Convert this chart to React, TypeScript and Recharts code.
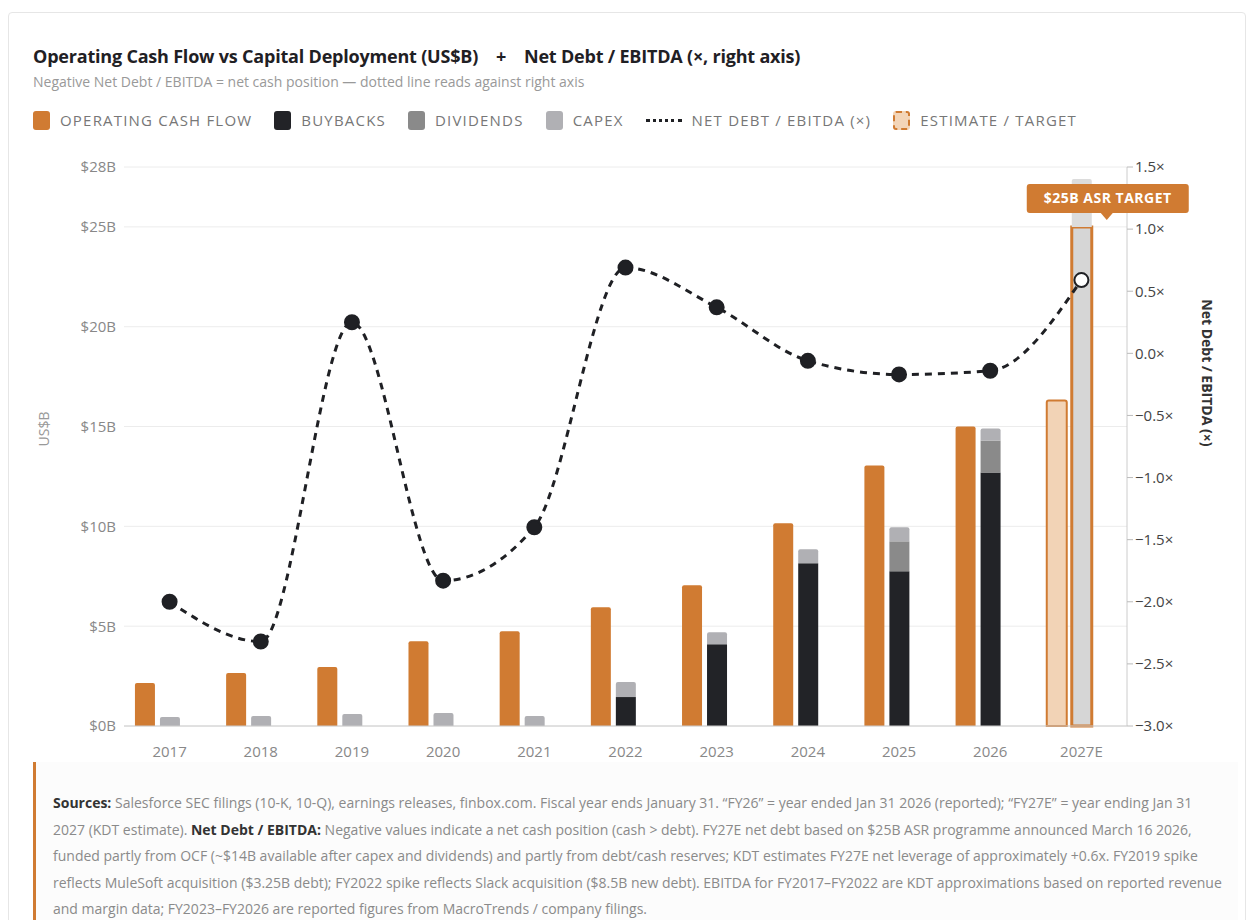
import React from "react"
import {
  ComposedChart,
  Bar,
  Line,
  XAxis,
  YAxis,
  CartesianGrid,
  Cell,
  LabelList,
} from "recharts"

const years = ["2017", "2018", "2019", "2020", "2021", "2022", "2023", "2024", "2025", "2026", "2027E"]
const operatingCashFlow = [2.15, 2.65, 2.95, 4.25, 4.75, 5.95, 7.05, 10.15, 13.05, 15.0, 16.3]
const buybacks = [0, 0, 0, 0, 0, 1.45, 4.1, 8.15, 7.75, 12.7, 25]
const dividends = [0, 0, 0, 0, 0, 0, 0, 0, 1.5, 1.6, 0]
const capex = [0.45, 0.5, 0.6, 0.65, 0.5, 0.75, 0.6, 0.7, 0.7, 0.6, 2.4]
const netDebtEbitda = [-2.0, -2.32, 0.25, -1.83, -1.4, 0.69, 0.37, -0.06, -0.17, -0.14, 0.59]
const leftTicks = [0, 5, 10, 15, 20, 25, 28]
const rightTicks = [-3, -2.5, -2, -1.5, -1, -0.5, 0, 0.5, 1, 1.5]

const ORANGE = "#d07b32"
const FONT = "'Open Sans', 'Noto Sans', sans-serif"
const data = years.map((y, i) => ({
  year: y,
  ocf: operatingCashFlow[i],
  buybacks: buybacks[i],
  dividends: dividends[i],
  capex: capex[i],
  nd: netDebtEbitda[i],
}))
const last = years.length - 1
const targetValue = buybacks[last]

const fmtRight = (v: number) => (v < 0 ? "−" + Math.abs(v).toFixed(1) : v.toFixed(1)) + "×"

const Dot = (p: any) => {
  const est = p.index === last
  return (
    <circle
      key={p.index}
      cx={p.cx}
      cy={p.cy}
      r={7}
      fill={est ? "#fff" : "#1f2024"}
      stroke="#1f2024"
      strokeWidth={2}
    />
  )
}

const TargetLabel = (p: any) => {
  if (p.value !== targetValue) return null
  const cx = Number(p.x) + Number(p.width) / 2
  const y = 34
  return (
    <g>
      <rect x={cx - 80} y={y} width={162} height={29} rx={3} fill={ORANGE} />
      <path d={`M${cx - 6},${y + 29} L${cx + 6},${y + 29} L${cx},${y + 36} Z`} fill={ORANGE} />
      <text x={cx + 1} y={y + 19} textAnchor="middle" fill="#fff" fontSize={14} fontWeight={700} letterSpacing={0.5}>
        $25B ASR TARGET
      </text>
    </g>
  )
}

const legend = [
  { label: "OPERATING CASH FLOW", fill: ORANGE },
  { label: "BUYBACKS", fill: "#222327" },
  { label: "DIVIDENDS", fill: "#8a8a8a" },
  { label: "CAPEX", fill: "#b0b0b4" },
  { label: "NET DEBT / EBITDA (×)", line: true },
  { label: "ESTIMATE / TARGET", fill: "#f3d5b8", dashed: true },
]

export default function App() {
  return (
    <div style={{ position: "absolute", left: 0, top: 0, width: 1248, height: 920, fontFamily: FONT, background: "#fff", overflow: "hidden" }}>
      <div style={{ position: "absolute", left: 8, top: 12, width: 1236, height: 920, border: "1px solid #e6e6e6", borderRadius: 4 }} />
      <div style={{ position: "absolute", left: 33, top: 44, fontSize: 18, fontWeight: 700, color: "#1f2024", whiteSpace: "pre", letterSpacing: -0.2 }}>
        {"Operating Cash Flow vs Capital Deployment (US$B)    +    Net Debt / EBITDA (×, right axis)"}
      </div>
      <div style={{ position: "absolute", left: 33, top: 72, fontSize: 14, color: "#999" }}>
        Negative Net Debt / EBITDA = net cash position  —  dotted line reads against right axis
      </div>
      <div style={{ position: "absolute", left: 33, top: 110, display: "flex", gap: 22, alignItems: "center" }}>
        {legend.map((l) => (
          <div key={l.label} style={{ display: "flex", alignItems: "center", gap: 10, fontSize: 15, letterSpacing: 1.2, color: "#777" }}>
            {l.line ? (
              <div style={{ width: 36, borderTop: "3px dotted #1f2024" }} />
            ) : (
              <div style={{ width: 17, height: 19, borderRadius: 3, background: l.fill, border: l.dashed ? `2px dashed ${ORANGE}` : "none", boxSizing: "border-box" }} />
            )}
            <span>{l.label}</span>
          </div>
        ))}
      </div>

      <div style={{ position: "absolute", left: 0, top: 150 }}>
        <ComposedChart width={1248} height={640} data={data} margin={{ top: 17, right: 61, left: 64, bottom: 34 }} barCategoryGap="12%" barGap={5} style={{ fontFamily: FONT }}>
          <CartesianGrid yAxisId="left" vertical={false} stroke="#ececec" />
          <XAxis dataKey="year" tick={{ fill: "#888", fontSize: 15 }} tickLine={false} axisLine={{ stroke: "#ccc" }} height={30} tickMargin={14} />
          <YAxis
            yAxisId="left"
            domain={[0, 28]}
            ticks={leftTicks}
            width={60}
            tick={{ fill: "#888", fontSize: 15 }}
            tickLine={false}
            axisLine={false}
            tickFormatter={(v) => `$${v}B`}
            label={{ value: "US$B", angle: -90, position: "insideLeft", offset: -20, fill: "#999", fontSize: 14 }}
          />
          <YAxis
            yAxisId="right"
            orientation="right"
            domain={[-3, 1.5]}
            ticks={rightTicks}
            width={60}
            tick={{ fill: "#444", fontSize: 15 }}
            tickLine={{ stroke: "#bbb" }}
            axisLine={{ stroke: "#ccc" }}
            tickFormatter={fmtRight}
            label={{ value: "Net Debt / EBITDA (×)", angle: 90, position: "insideRight", offset: -20, fill: "#333", fontSize: 14, fontWeight: 700 }}
          />
          <Bar yAxisId="left" dataKey="ocf" stackId="a" fill={ORANGE} radius={[2, 2, 0, 0]} isAnimationActive={false}>
            {data.map((d, i) => (
              <Cell key={i} fill={i === last ? "#f2d3b6" : ORANGE} stroke={i === last ? ORANGE : "none"} strokeWidth={2} />
            ))}
          </Bar>
          <Bar yAxisId="left" dataKey="buybacks" stackId="b" fill="#222327" isAnimationActive={false}>
            {data.map((d, i) => (
              <Cell key={i} fill={i === last ? "#d6d6d6" : "#222327"} stroke={i === last ? ORANGE : "none"} strokeWidth={3} />
            ))}
          </Bar>
          <Bar yAxisId="left" dataKey="dividends" stackId="b" fill="#8a8a8a" isAnimationActive={false} />
          <Bar yAxisId="left" dataKey="capex" stackId="b" fill="#b0b0b4" radius={[2, 2, 0, 0]} isAnimationActive={false}>
            {data.map((d, i) => (
              <Cell key={i} fill={i === last ? "#dcdcdc" : "#b0b0b4"} />
            ))}
          </Bar>
          <Bar yAxisId="left" dataKey="buybacks" stackId="c" fill="none" legendType="none" isAnimationActive={false} barSize={0}>
            <LabelList dataKey="buybacks" content={TargetLabel} />
          </Bar>
          <Line
            yAxisId="right"
            type="monotone"
            dataKey="nd"
            stroke="#1f2024"
            strokeWidth={3}
            strokeDasharray="7 6"
            dot={Dot}
            activeDot={false}
            isAnimationActive={false}
          />
        </ComposedChart>
      </div>

      <div style={{ position: "absolute", left: 33, top: 762, width: 1205, height: 170, borderLeft: `3px solid ${ORANGE}`, background: "#fcfcfc", boxSizing: "border-box", padding: "28px 16px 0 17px", fontSize: 14, lineHeight: "26.5px", color: "#8a8a8a" }}>
        <b style={{ color: "#333" }}>Sources:</b> Salesforce SEC filings (10-K, 10-Q), earnings releases, finbox.com. Fiscal year ends January 31. “FY26” = year ended Jan 31 2026 (reported); “FY27E” = year ending Jan 31 2027 (KDT estimate). <b style={{ color: "#333" }}>Net Debt / EBITDA:</b> Negative values indicate a net cash position (cash &gt; debt). FY27E net debt based on $25B ASR programme announced March 16 2026, funded partly from OCF (~$14B available after capex and dividends) and partly from debt/cash reserves; KDT estimates FY27E net leverage of approximately +0.6x. FY2019 spike reflects MuleSoft acquisition ($3.25B debt); FY2022 spike reflects Slack acquisition ($8.5B new debt). EBITDA for FY2017–FY2022 are KDT approximations based on reported revenue and margin data; FY2023–FY2026 are reported figures from MacroTrends / company filings.
      </div>
    </div>
  )
}
